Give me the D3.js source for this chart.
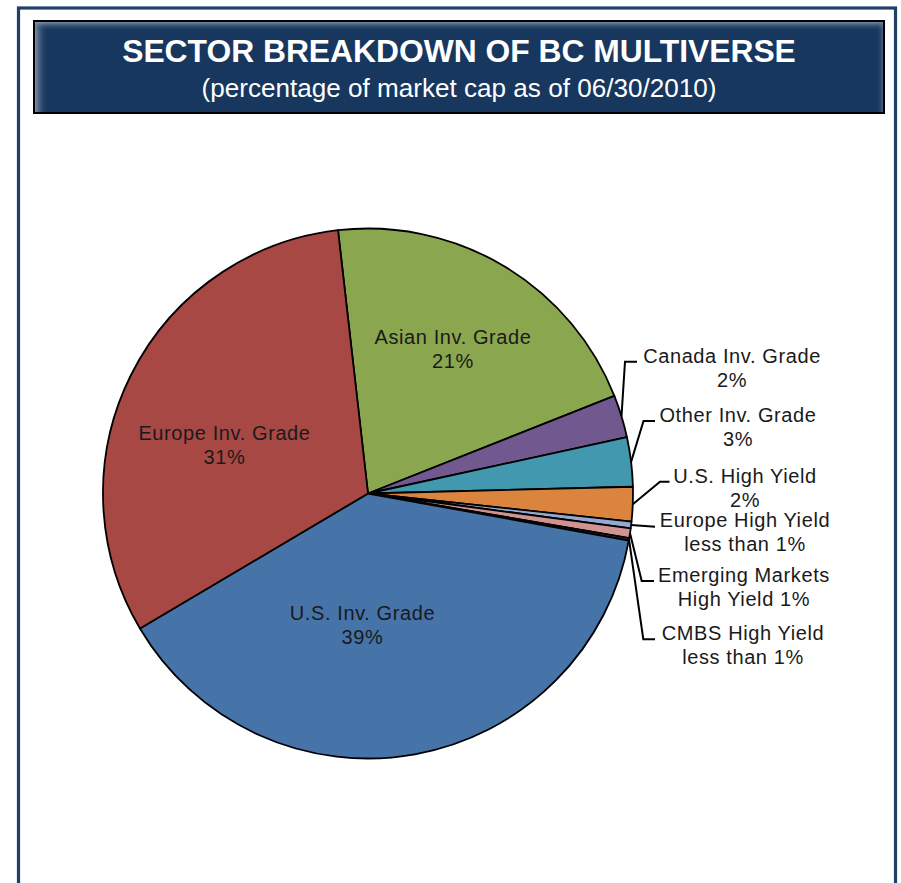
<!DOCTYPE html>
<html>
<head>
<meta charset="utf-8">
<script src="https://cdn.jsdelivr.net/npm/d3@7"></script>
<style>
  html, body { margin: 0; padding: 0; background: #ffffff; }
  svg { display: block; }
</style>
</head>
<body>
<script>
// ---- data ----
const categories = ["Asian Inv. Grade", "Canada Inv. Grade", "Other Inv. Grade", "U.S. High Yield",
  "Europe High Yield", "Emerging Markets High Yield", "CMBS High Yield", "U.S. Inv. Grade", "Europe Inv. Grade"];
const values = [20.8, 2.6, 3.0, 2.1, 0.4, 0.6, 0.15, 38.65, 31.7];
const labelLines = [
  ["Asian Inv. Grade", "21%"],
  ["Canada Inv. Grade", "2%"],
  ["Other Inv. Grade", "3%"],
  ["U.S. High Yield", "2%"],
  ["Europe High Yield", "less than 1%"],
  ["Emerging Markets", "High Yield 1%"],
  ["CMBS High Yield", "less than 1%"],
  ["U.S. Inv. Grade", "39%"],
  ["Europe Inv. Grade", "31%"]
];
const colors = ["#8aa64f", "#71588f", "#4198af", "#db843d", "#93a9cf", "#d19392", "#3a3a3a", "#4673a8", "#a84845"];
const titleText = "SECTOR BREAKDOWN OF BC MULTIVERSE";
const subtitleText = "(percentage of market cap as of 06/30/2010)";

// ---- layout (positions, kept separate from data) ----
const W = 901, H = 883;
const cx = 368, cy = 493.5, R = 265;
const startDeg = -6.5;
const labelLayout = [
  { inside: true, x: 453, y: 343.5 },
  { x: 732, y: 362.5, ex: 625, hx: 637 },
  { x: 738, y: 421.7, ex: 643.5, hx: 655 },
  { x: 745, y: 482.5, ex: 660, hx: 669.5 },
  { x: 745, y: 527.3, ex: null, hx: 655 },
  { x: 744, y: 581.7, ex: 641.7, hx: 654 },
  { x: 743, y: 640, ex: 643.3, hx: 655 },
  { inside: true, x: 362.5, y: 619.7 },
  { inside: true, x: 224.5, y: 439.8 }
];
const lineGap = 24;

const svg = d3.select("body").append("svg").attr("width", W).attr("height", H);
const defs = svg.append("defs");

// outer frame
svg.append("rect").attr("x", 18.5).attr("y", 8).attr("width", 877).attr("height", 920)
  .attr("fill", "#ffffff").attr("stroke", "#203f6a").attr("stroke-width", 3.2);

// title box with inner glow
const gl = defs.append("linearGradient").attr("id", "glowL").attr("x1", 0).attr("x2", 1).attr("y1", 0).attr("y2", 0);
gl.append("stop").attr("offset", 0).attr("stop-color", "#9aa8ba").attr("stop-opacity", 0.95);
gl.append("stop").attr("offset", 1).attr("stop-color", "#17375e").attr("stop-opacity", 0);
const gt = defs.append("linearGradient").attr("id", "glowT").attr("x1", 0).attr("x2", 0).attr("y1", 0).attr("y2", 1);
gt.append("stop").attr("offset", 0).attr("stop-color", "#9aa8ba").attr("stop-opacity", 0.9);
gt.append("stop").attr("offset", 1).attr("stop-color", "#17375e").attr("stop-opacity", 0);
const gr = defs.append("linearGradient").attr("id", "glowR").attr("x1", 1).attr("x2", 0).attr("y1", 0).attr("y2", 0);
gr.append("stop").attr("offset", 0).attr("stop-color", "#9aa8ba").attr("stop-opacity", 0.5);
gr.append("stop").attr("offset", 1).attr("stop-color", "#17375e").attr("stop-opacity", 0);

const bx = 34, by = 21, bw = 850, bh = 92;
svg.append("rect").attr("x", bx).attr("y", by).attr("width", bw).attr("height", bh).attr("fill", "#17375e");
svg.append("rect").attr("x", bx).attr("y", by).attr("width", 14).attr("height", bh).attr("fill", "url(#glowL)");
svg.append("rect").attr("x", bx).attr("y", by).attr("width", bw).attr("height", 10).attr("fill", "url(#glowT)");
svg.append("rect").attr("x", bx + bw - 8).attr("y", by).attr("width", 8).attr("height", bh).attr("fill", "url(#glowR)");
svg.append("rect").attr("x", bx).attr("y", by).attr("width", bw).attr("height", bh)
  .attr("fill", "none").attr("stroke", "#000").attr("stroke-width", 2);

svg.append("text").attr("x", 459).attr("y", 62).attr("text-anchor", "middle")
  .attr("font-family", "'Liberation Sans', Arial, sans-serif").attr("font-weight", "bold")
  .attr("font-size", 31.8).attr("fill", "#ffffff").text(titleText);
svg.append("text").attr("x", 459).attr("y", 97).attr("text-anchor", "middle")
  .attr("font-family", "'Liberation Sans', Arial, sans-serif")
  .attr("font-size", 26.1).attr("fill", "#ffffff").text(subtitleText);

// pie
const pie = d3.pie().sort(null).value(d => d)
  .startAngle(startDeg * Math.PI / 180).endAngle(startDeg * Math.PI / 180 + 2 * Math.PI);
const arcs = pie(values);
const arc = d3.arc().innerRadius(0).outerRadius(R);
const edgeArc = d3.arc().innerRadius(R).outerRadius(R);

const g = svg.append("g").attr("transform", `translate(${cx},${cy})`);
g.selectAll("path.slice").data(arcs).enter().append("path")
  .attr("class", "slice")
  .attr("d", arc)
  .attr("fill", (d, i) => colors[i])
  .attr("stroke", "#000").attr("stroke-width", 1.8).attr("stroke-linejoin", "round");

// leader lines
arcs.forEach((d, i) => {
  const L = labelLayout[i];
  if (L.inside) return;
  const p = edgeArc.centroid(d);
  const sx = cx + p[0], sy = cy + p[1];
  const pts = L.ex === null ? [[sx, sy], [L.hx, L.y - 0.5]] : [[sx, sy], [L.ex, L.y - 0.8], [L.hx, L.y - 0.8]];
  svg.append("path").attr("d", d3.line()(pts))
    .attr("fill", "none").attr("stroke", "#000").attr("stroke-width", 2);
});

// labels
const font = "'Liberation Sans', Arial, sans-serif";
arcs.forEach((d, i) => {
  const L = labelLayout[i];
  const t = svg.append("text").attr("text-anchor", "middle")
    .attr("font-family", font).attr("font-size", 20).attr("letter-spacing", 0.6)
    .attr("fill", "#1a1a1a");
  labelLines[i].forEach((line, j) => {
    t.append("tspan").attr("x", L.x).attr("y", L.y + j * lineGap).text(line);
  });
});
</script>
</body>
</html>
